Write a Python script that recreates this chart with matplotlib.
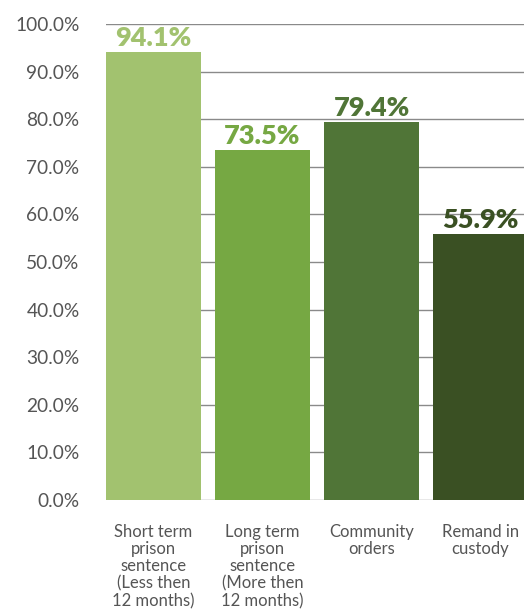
import matplotlib
matplotlib.use("Agg")
import matplotlib.pyplot as plt
import numpy as np

plt.rcParams['font.family'] = ['Lato', 'DejaVu Sans']

categories = ["Short term\nprison\nsentence\n(Less then\n12 months)",
              "Long term\nprison\nsentence\n(More then\n12 months)",
              "Community\norders",
              "Remand in\ncustody"]
values = [94.1, 73.5, 79.4, 55.9]
colors = ["#A2C26F", "#76A843", "#507537", "#3A5023"]
yticks = np.arange(0, 101, 10)

fig = plt.figure(figsize=(5.24, 6.14), dpi=100)
ax = fig.add_axes([0.2023, 0.1857, 0.798, 0.7753])

x = np.arange(len(values))
ax.bar(x, values, width=0.87, color=colors, zorder=2)
for xi, v, c in zip(x, values, colors):
    ax.text(xi, v + 0.4, f"{v:.1f}%", ha='center', va='bottom',
            fontsize=19.5, fontweight='heavy', color=c)

ax.set_ylim(0, 100)
ax.set_xlim(-0.435, 3.40)
ax.set_yticks(yticks)
ax.set_yticklabels([f"{t:.1f}%" for t in yticks], fontsize=13.8, color='#555555')
ax.yaxis.grid(True, color='#8a8a8a', linewidth=1, zorder=0)
ax.set_xticks(x)
ax.set_xticklabels(categories, fontsize=12, color='#555555', linespacing=1.1)
ax.tick_params(axis='y', length=0, pad=19)
ax.tick_params(axis='x', length=0, pad=17)
for s in ax.spines.values():
    s.set_visible(False)
ax.set_axisbelow(True)

fig.savefig("out.png", dpi=100)
